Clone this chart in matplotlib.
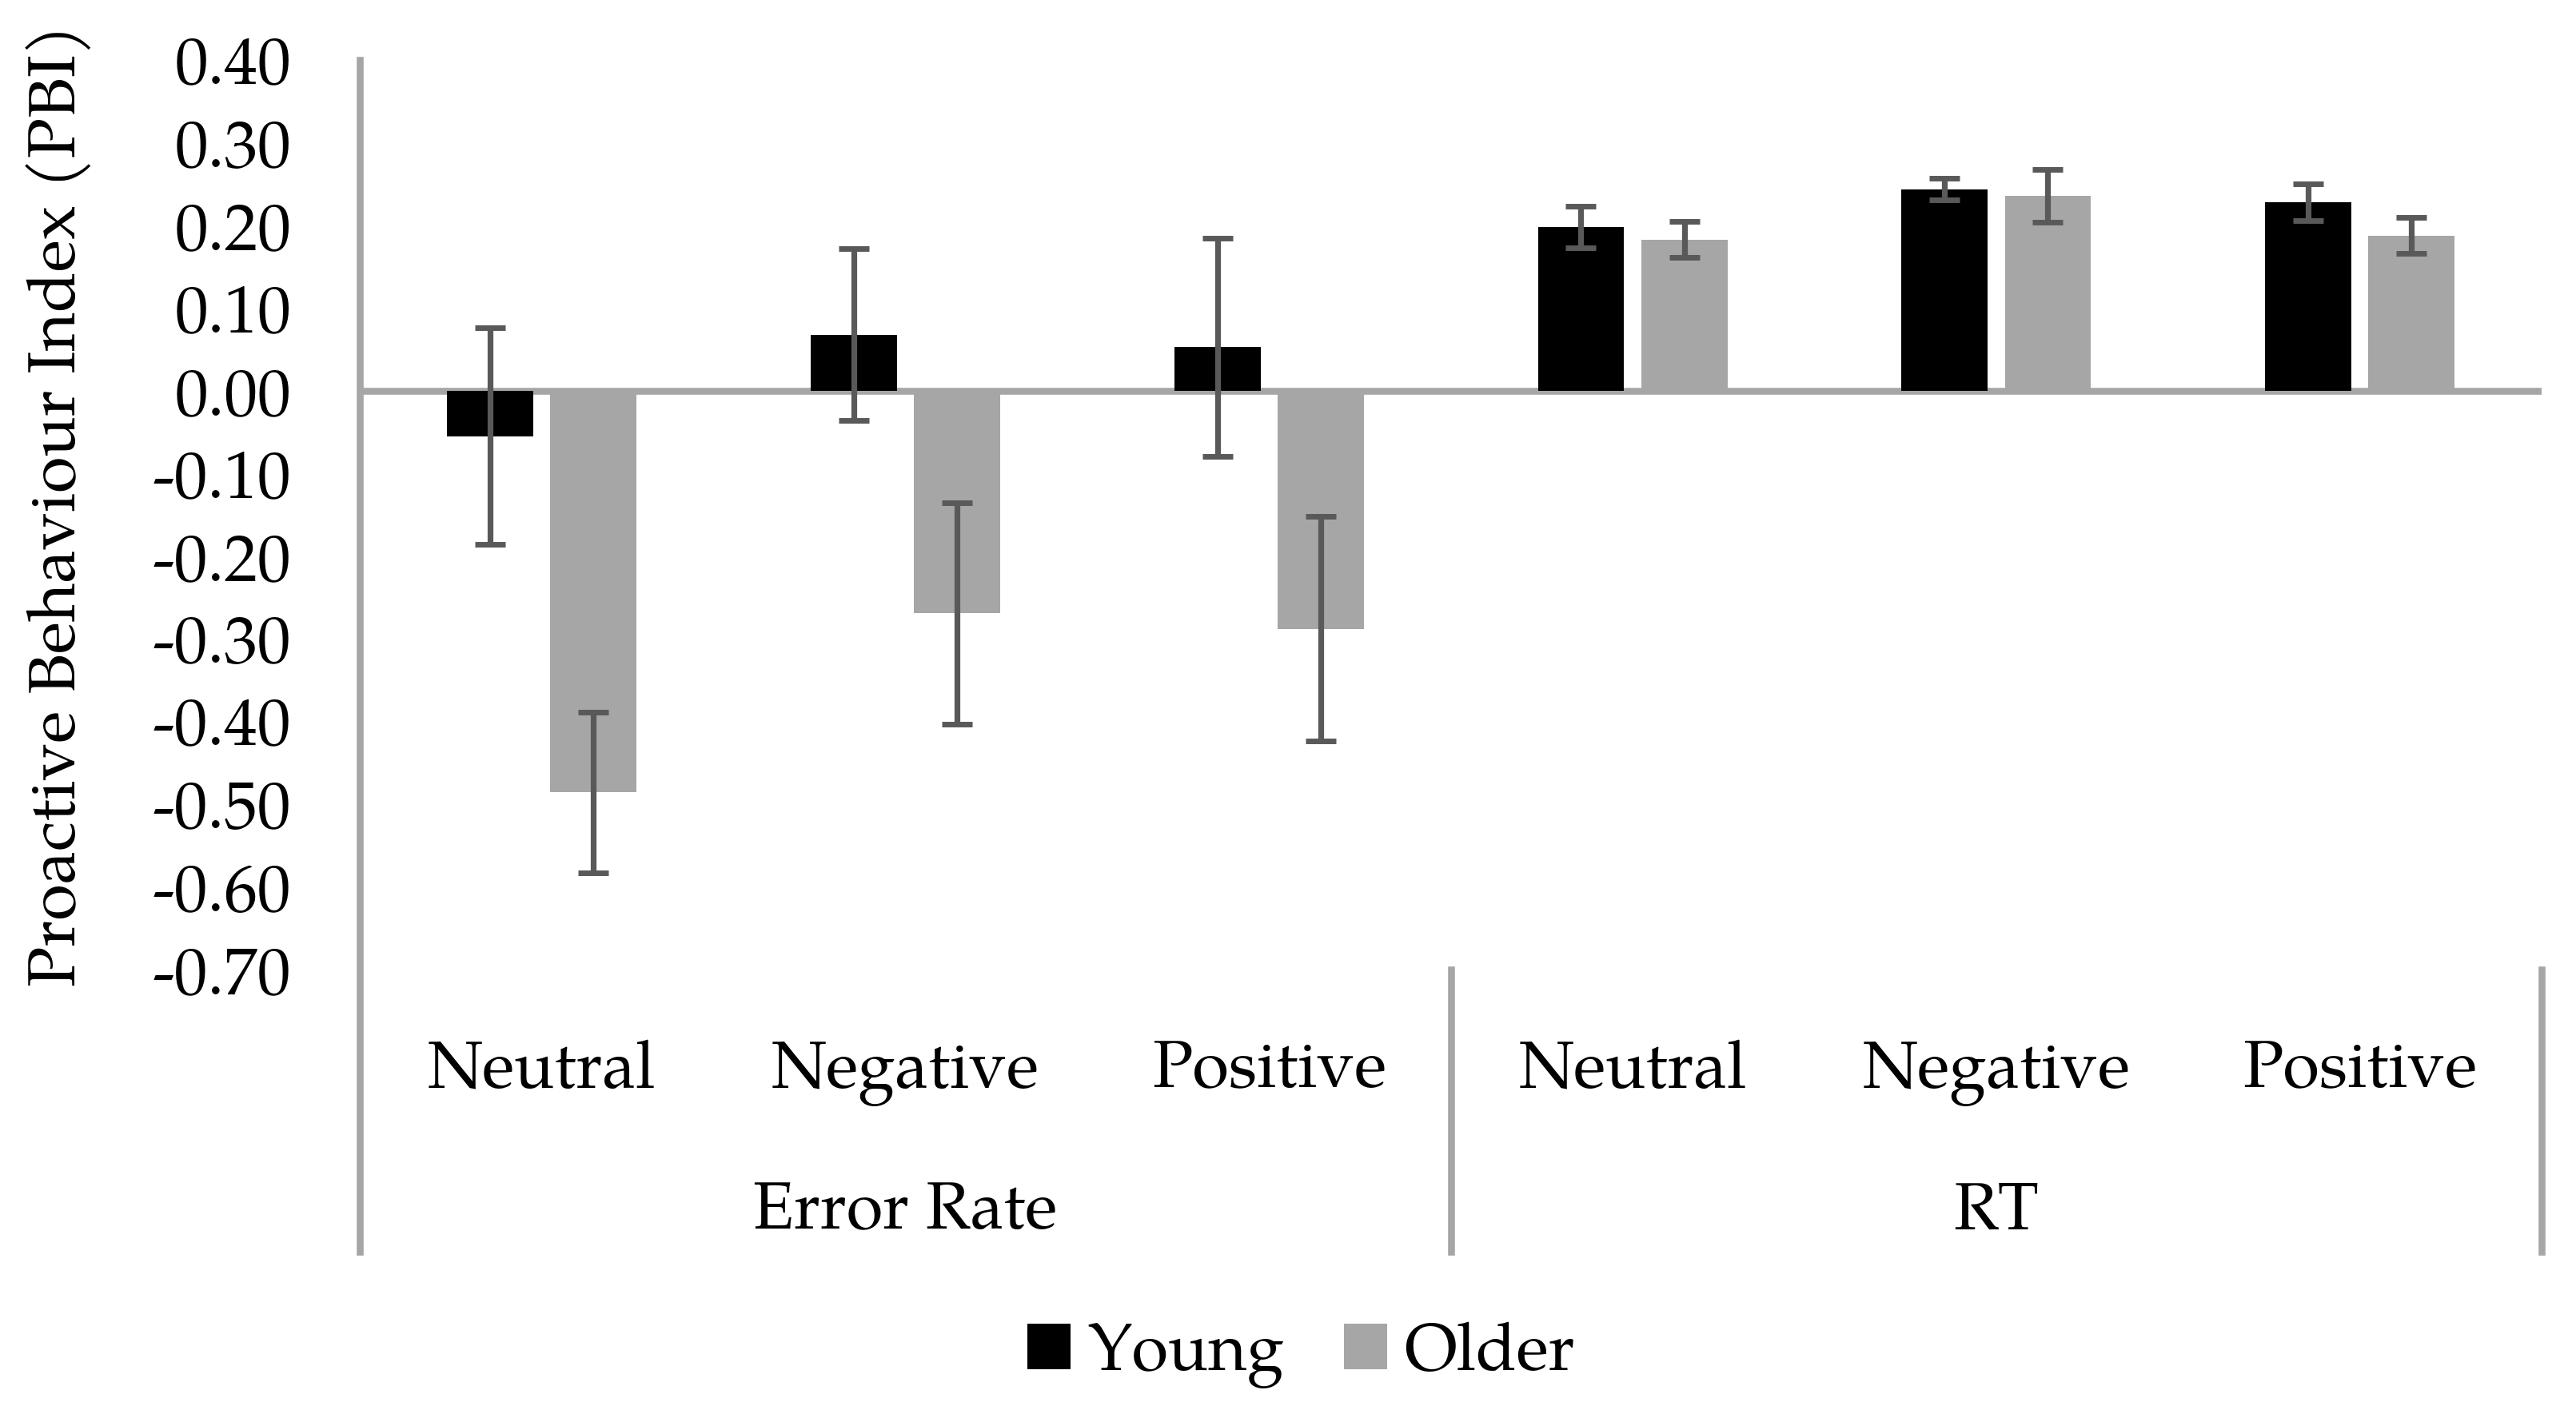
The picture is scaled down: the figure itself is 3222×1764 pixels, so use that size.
import matplotlib
matplotlib.use("Agg")
import matplotlib.pyplot as plt
import numpy as np
from matplotlib import font_manager
from matplotlib.patches import Patch

categories = ["Neutral", "Negative", "Positive", "Neutral", "Negative", "Positive"]
groups = ["Error Rate", "RT"]
series = ["Young", "Older"]
young = [-0.055, 0.068, 0.053, 0.198, 0.244, 0.228]
young_err = [0.131, 0.104, 0.132, 0.025, 0.013, 0.022]
older = [-0.486, -0.269, -0.288, 0.183, 0.236, 0.188]
older_err = [0.097, 0.134, 0.136, 0.022, 0.032, 0.022]
yticks = [-0.7, -0.6, -0.5, -0.4, -0.3, -0.2, -0.1, 0.0, 0.1, 0.2, 0.3, 0.4]
ytick_labels = ["-0.70", "-0.60", "-0.50", "-0.40", "-0.30", "-0.20", "-0.10",
                "0.00", "0.10", "0.20", "0.30", "0.40"]

# pick a Palatino-ish serif if present, else Liberation Serif
have = {f.name for f in font_manager.fontManager.ttflist}
serif = next((n for n in ["Palatino Linotype", "Book Antiqua", "TeX Gyre Pagella",
                          "P052", "URW Palladio L", "Liberation Serif", "DejaVu Serif"]
              if n in have), "DejaVu Serif")
plt.rcParams["font.family"] = serif
FS = 30

AX_GRAY = "#A6A6A6"
ERR_GRAY = "#595959"

fig = plt.figure(figsize=(16.11, 8.82), dpi=200)
ax = fig.add_axes([0.1397, 0.3125, 0.9867 - 0.1397, 0.9573 - 0.3125])

x = np.arange(len(categories))
w, off = 0.237, 0.142
ekw = dict(ecolor=ERR_GRAY, elinewidth=2.6, capsize=6.7, capthick=2.5)
ax.bar(x - off, young, w, color="black", yerr=young_err, error_kw=ekw, zorder=3)
ax.bar(x + off, older, w, color=AX_GRAY, yerr=older_err, error_kw=ekw, zorder=3)

ax.set_xlim(-0.5, 5.5)
ax.set_ylim(-0.7, 0.4)
ax.set_yticks(yticks, ytick_labels)
ax.tick_params(axis="y", length=0, pad=31, labelsize=FS)
ax.set_xticks([])
for s in ax.spines.values():
    s.set_visible(False)

ax.axhline(0, color=AX_GRAY, lw=3.1, zorder=2)

# axis line + category separators running down through the label area
tr = ax.get_xaxis_transform()
bot = -0.3105
ax.plot([-0.5, -0.5], [1, bot], color=AX_GRAY, lw=3.1, transform=tr, clip_on=False)
for xs in (2.5, 5.5):
    ax.plot([xs, xs], [0, bot], color=AX_GRAY, lw=3.1, transform=tr, clip_on=False)

for i, c in enumerate(categories):
    ax.text(i, -0.1299, c, transform=tr, ha="center", va="baseline", fontsize=FS)
for j, g in enumerate(groups):
    ax.text(3 * j + 1, -0.2855, g, transform=tr, ha="center", va="baseline", fontsize=FS)

fig.text(76 / 3222, 1 - 632 / 1764, "Proactive Behaviour Index (PBI)", rotation=90,
         ha="center", va="center", fontsize=FS)

handles = [Patch(facecolor="black"), Patch(facecolor=AX_GRAY)]
fig.legend(handles, series, loc="center", bbox_to_anchor=(0.505, 0.039), ncol=2,
           frameon=False, fontsize=FS, handlelength=0.65, handleheight=0.68,
           handletextpad=0.25, columnspacing=0.9)

fig.savefig("out.png", dpi=200)
